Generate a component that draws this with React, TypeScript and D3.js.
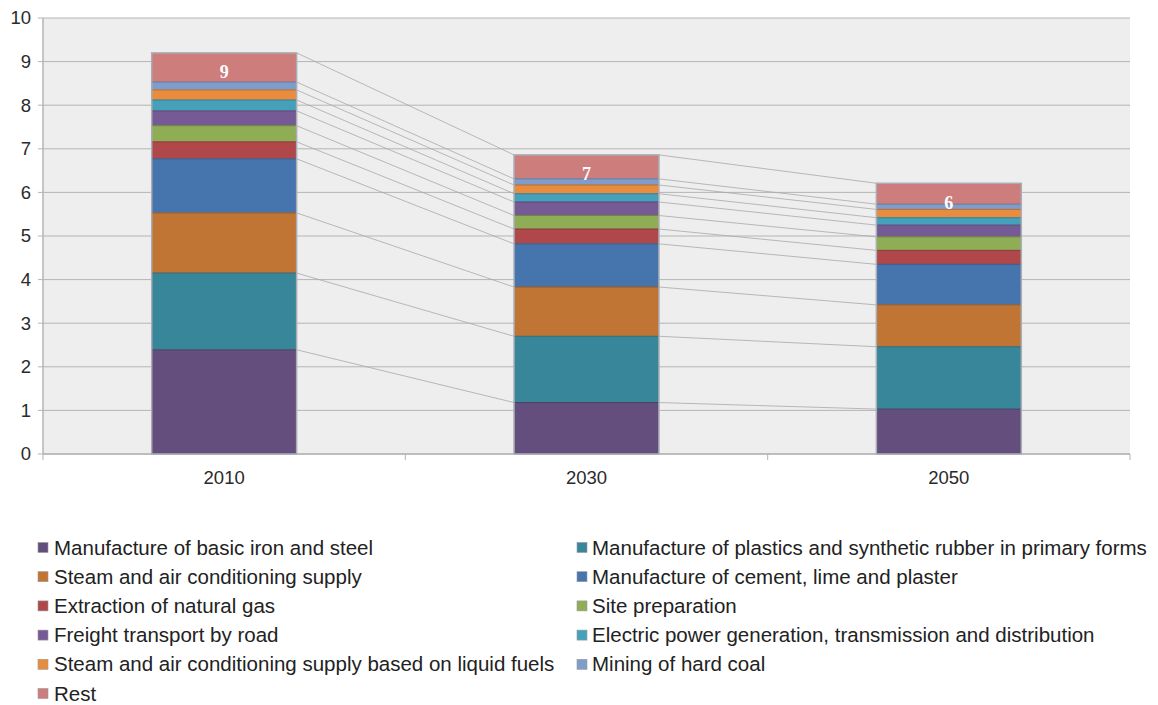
import React from "react";
import * as d3 from "d3";

const years = ["2010", "2030", "2050"];
const seriesNames = [
  "Manufacture of basic iron and steel",
  "Manufacture of plastics and synthetic rubber in primary forms",
  "Steam and air conditioning supply",
  "Manufacture of cement, lime and plaster",
  "Extraction of natural gas",
  "Site preparation",
  "Freight transport by road",
  "Electric power generation, transmission and distribution",
  "Steam and air conditioning supply based on liquid fuels",
  "Mining of hard coal",
  "Rest",
];
const seriesColors = [
  "#634e7d", "#37869a", "#c07534", "#4674ad", "#b0474a", "#8fad54",
  "#765a95", "#45a0b9", "#e98c3e", "#7f9dcb", "#cc7d7c",
];
// values per series: [2010, 2030, 2050]
const ironSteel = [2.39, 1.18, 1.03];
const plastics = [1.76, 1.52, 1.43];
const steamSupply = [1.38, 1.13, 0.96];
const cement = [1.24, 0.99, 0.93];
const naturalGas = [0.39, 0.34, 0.32];
const sitePrep = [0.37, 0.31, 0.31];
const freight = [0.34, 0.31, 0.27];
const electric = [0.25, 0.19, 0.17];
const liquidFuels = [0.23, 0.2, 0.19];
const hardCoal = [0.18, 0.14, 0.12];
const rest = [0.67, 0.55, 0.48];
const totalLabels = ["9", "7", "6"];
const yTicks = [0, 1, 2, 3, 4, 5, 6, 7, 8, 9, 10];

const seriesValues = [
  ironSteel, plastics, steamSupply, cement, naturalGas, sitePrep,
  freight, electric, liquidFuels, hardCoal, rest,
];

export default function App() {
  const W = 1158, H = 705;
  const left = 43, right = 1130, top = 18, bottom = 454;
  const x = d3.scaleBand<string>().domain(years).range([left, right]).paddingInner(0.6).paddingOuter(0.3);
  const y = d3.scaleLinear().domain([0, 10]).range([bottom, top]);
  const table = years.map((yr, i) => {
    const o: any = { year: yr };
    seriesNames.forEach((s, k) => (o[s] = seriesValues[k][i]));
    return o;
  });
  const stacked = d3.stack<any>().keys(seriesNames)(table);
  const bw = x.bandwidth();
  const step = x.step();
  const font = "Liberation Sans, Arial, Helvetica, sans-serif";

  return (
    <svg width={W} height={H} style={{ position: "absolute", left: 0, top: 0 }} fontFamily={font}>
      <rect x={0} y={0} width={W} height={H} fill="#ffffff" />
      <rect x={left} y={top} width={right - left} height={bottom - top} fill="#eeeeee" />
      {yTicks.map((t) => (
        <g key={t}>
          <line x1={left - 5} x2={right} y1={y(t)} y2={y(t)} stroke="#b4b4b4" strokeWidth={1} />
          <text x={31} y={y(t)} dy="0.35em" textAnchor="end" fontSize={18.5} fill="#2a2a2a">{t}</text>
        </g>
      ))}
      <line x1={left} x2={left} y1={top} y2={bottom} stroke="#b4b4b4" strokeWidth={1.5} />
      <line x1={left} x2={right} y1={bottom} y2={bottom} stroke="#b4b4b4" strokeWidth={1.5} />
      {[0, 1, 2, 3].map((i) => (
        <line key={i} x1={left + step * i} x2={left + step * i} y1={bottom} y2={bottom + 6} stroke="#b4b4b4" strokeWidth={1} />
      ))}
      {years.map((yr) => (
        <text key={yr} x={(x(yr) as number) + bw / 2} y={478} dy="0.35em" textAnchor="middle" fontSize={18.5} fill="#2a2a2a">{yr}</text>
      ))}
      {/* series lines */}
      {stacked.map((layer, k) =>
        [0, 1].map((i) => (
          <line
            key={k + "-" + i}
            x1={(x(years[i]) as number) + bw}
            x2={x(years[i + 1]) as number}
            y1={y(layer[i][1])}
            y2={y(layer[i + 1][1])}
            stroke="#a8a8a8"
            strokeWidth={0.8}
          />
        ))
      )}
      {stacked.map((layer, k) =>
        layer.map((d, i) => (
          <g key={k + "-" + i}>
            <rect x={x(years[i])} y={y(d[1])} width={bw} height={y(d[0]) - y(d[1])} fill={seriesColors[k]} />
            {k > 0 && (
              <line x1={x(years[i])} x2={(x(years[i]) as number) + bw} y1={y(d[0])} y2={y(d[0])} stroke={d3.color(seriesColors[k - 1])!.darker(0.7).toString()} strokeWidth={1} />
            )}
          </g>
        ))
      )}
      {years.map((yr, i) => {
        const t = stacked[stacked.length - 1][i][1];
        return (
          <rect key={yr} x={x(yr)} y={y(t)} width={bw} height={y(0) - y(t)} fill="none" stroke="#a9aeb6" strokeWidth={1.5} />
        );
      })}
      {years.map((yr, i) => {
        const t = stacked[stacked.length - 1][i][1];
        return (
          <text key={yr} x={(x(yr) as number) + bw / 2} y={y(t) + 19} dy="0.35em" textAnchor="middle" fontSize={18} fontWeight="bold" fontFamily="Liberation Serif, Times New Roman, serif" fill="#ffffff">
            {totalLabels[i]}
          </text>
        );
      })}
      {/* legend */}
      {seriesNames.map((s, k) => {
        const col = k % 2;
        const row = Math.floor(k / 2);
        const mx = col === 0 ? 38 : 577;
        const tx = col === 0 ? 54 : 592;
        const cy = 547.5 + row * 29.2;
        return (
          <g key={s}>
            <rect x={mx} y={cy - 5} width={10} height={10} fill={seriesColors[k]} stroke="#9a9a9a" strokeWidth={0.6} />
            <text x={tx} y={cy} dy="0.35em" fontSize={20.5} fill="#222222">{s}</text>
          </g>
        );
      })}
    </svg>
  );
}
